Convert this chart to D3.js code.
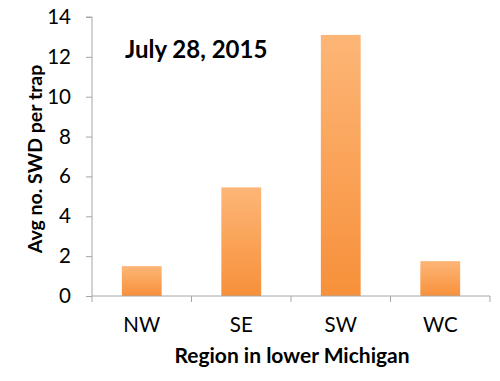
<!DOCTYPE html>
<html><head><meta charset="utf-8">
<script src="https://cdn.jsdelivr.net/npm/d3@7"></script>
<style>body{margin:0;background:#fff}svg{display:block}text{font-family:Lato,"Open Sans",sans-serif}</style>
</head><body><svg id="c" width="500" height="381"></svg>
<script>
const categories = ["NW","SE","SW","WC"];
const values = [1.5, 5.45, 13.1, 1.75];
const yTicks = [0,2,4,6,8,10,12,14];
const title = "July 28, 2015";
const xTitle = "Region in lower Michigan";
const yTitle = "Avg no. SWD per trap";

(function(){
const svg = d3.select("#c");
const mLeft = 92, mRight = 490, mTop = 17, mBottom = 296;
const x = d3.scaleBand().domain(categories).range([mLeft, mRight]).paddingInner(0.6).paddingOuter(0.3);
const y = d3.scaleLinear().domain([0,14]).range([mBottom, mTop]);

const defs = svg.append("defs");
const g = defs.append("linearGradient").attr("id","grad").attr("x1",0).attr("y1",0).attr("x2",0).attr("y2",1);
g.append("stop").attr("offset","0%").attr("stop-color","#fdb677");
g.append("stop").attr("offset","100%").attr("stop-color","#f7903a");

svg.selectAll("rect.bar").data(values).join("rect").attr("class","bar")
  .attr("x",(d,i)=>x(categories[i])).attr("width",x.bandwidth())
  .attr("y",d=>y(d)).attr("height",d=>mBottom-y(d)).attr("fill","url(#grad)");

const ya = svg.append("g").attr("transform",`translate(${mLeft},0)`)
  .call(d3.axisLeft(y).tickValues(yTicks).tickSize(6).tickPadding(15).tickFormat(d3.format("d")));
ya.select(".domain").attr("stroke","#a6a6a6").attr("d",`M-6,${mTop}H0V${mBottom}`);
ya.selectAll(".tick line").attr("stroke","#a6a6a6");
ya.selectAll(".tick text").attr("font-size",20.5).attr("fill","#000").attr("font-family","Lato,sans-serif");

const xa = svg.append("g").attr("transform",`translate(0,${mBottom})`);
xa.append("line").attr("x1",mLeft).attr("x2",mRight).attr("stroke","#a6a6a6");
const bounds = [mLeft, ...categories.map(c=>x(c)+x.bandwidth()+x.step()*x.paddingInner()/2).slice(0,3), mRight];
xa.selectAll("line.t").data(bounds).join("line").attr("class","t")
  .attr("x1",d=>d).attr("x2",d=>d).attr("y1",0).attr("y2",6).attr("stroke","#a6a6a6");
xa.selectAll("text").data(categories).join("text")
  .attr("x",d=>x(d)+x.bandwidth()/2).attr("y",36).attr("text-anchor","middle")
  .attr("font-size",20.5).text(d=>d);

svg.append("text").attr("x",292).attr("y",363).attr("text-anchor","middle")
  .attr("font-size",21).attr("font-weight","bold").text(xTitle);
svg.append("text").attr("transform","translate(42,159) rotate(-90)").attr("text-anchor","middle")
  .attr("font-size",19.5).attr("font-weight","bold").text(yTitle);
svg.append("text").attr("x",125).attr("y",58).attr("font-size",24).attr("font-weight","bold").text(title);
})();
</script></body></html>
